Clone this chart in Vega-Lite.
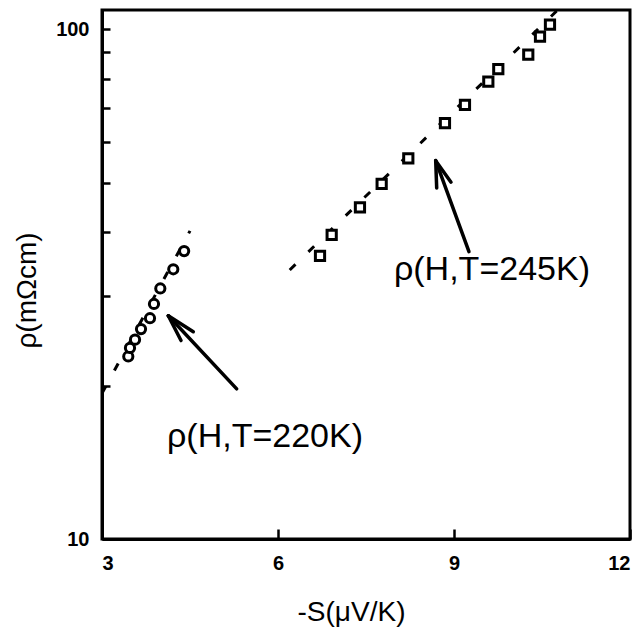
{
  "$schema": "https://vega.github.io/schema/vega-lite/v6.json",
  "width": 528,
  "height": 529,
  "autosize": {"type": "none"},
  "padding": {"left": 102, "top": 10, "right": 12, "bottom": 94},
  "background": "white",
  "config": {
    "view": {"stroke": "black", "strokeWidth": 3}
  },
  "datasets": {
    "pts": [
      {"series": "220K", "S": 3.448, "rho": 22.8},
      {"series": "220K", "S": 3.477, "rho": 23.7},
      {"series": "220K", "S": 3.563, "rho": 24.6},
      {"series": "220K", "S": 3.665, "rho": 25.8},
      {"series": "220K", "S": 3.818, "rho": 27.1},
      {"series": "220K", "S": 3.886, "rho": 28.9},
      {"series": "220K", "S": 3.994, "rho": 31.0},
      {"series": "220K", "S": 4.215, "rho": 33.8},
      {"series": "220K", "S": 4.40, "rho": 36.7},
      {"series": "245K", "S": 6.716, "rho": 35.9},
      {"series": "245K", "S": 6.915, "rho": 39.5},
      {"series": "245K", "S": 7.397, "rho": 44.7},
      {"series": "245K", "S": 7.767, "rho": 49.7},
      {"series": "245K", "S": 8.221, "rho": 55.8},
      {"series": "245K", "S": 8.846, "rho": 65.4},
      {"series": "245K", "S": 9.187, "rho": 71.0},
      {"series": "245K", "S": 9.585, "rho": 78.9},
      {"series": "245K", "S": 9.755, "rho": 83.5},
      {"series": "245K", "S": 10.266, "rho": 89.1},
      {"series": "245K", "S": 10.466, "rho": 96.7},
      {"series": "245K", "S": 10.636, "rho": 102.0}
    ],
    "fits": [
      {"series": "220K", "S": 3.0, "rho": 19.3},
      {"series": "220K", "S": 4.5, "rho": 40.2},
      {"series": "245K", "S": 6.2, "rho": 33.7},
      {"series": "245K", "S": 10.75, "rho": 108.5}
    ],
    "arrows": [
      {"S": 5.296, "rho": 19.7, "S2": 4.130, "rho2": 27.4},
      {"S": 4.347, "rho": 24.5, "S2": 4.130, "rho2": 27.4},
      {"S": 4.556, "rho": 25.5, "S2": 4.130, "rho2": 27.4},
      {"S": 9.255, "rho": 36.6, "S2": 8.688, "rho2": 55.2},
      {"S": 8.705, "rho": 48.8, "S2": 8.688, "rho2": 55.2},
      {"S": 8.949, "rho": 50.1, "S2": 8.688, "rho2": 55.2}
    ],
    "labels": [
      {"S": 5.778, "rho": 15.85, "text": "ρ(H,T=220K)"},
      {"S": 9.647, "rho": 33.7, "text": "ρ(H,T=245K)"}
    ]
  },
  "encoding": {
    "x": {
      "field": "S", "type": "quantitative",
      "scale": {"domain": [3, 12], "nice": false, "zero": false},
      "axis": {"values": [3, 6, 9, 12], "zindex": 1, "grid": false, "domainColor": "black", "domainWidth": 3, "tickColor": "black", "tickWidth": 2.5, "tickSize": -10, "labelPadding": 24, "labelFontSize": 20, "labelFontWeight": "bold", "labelFont": "Liberation Sans", "labelColor": "black", "title": "-S(μV/K)", "titleFont": "Liberation Sans", "titleFontWeight": "normal", "titleFontSize": 28, "titleColor": "black", "titleX": 249, "titleY": 73, "titleBaseline": "middle"}
    },
    "y": {
      "field": "rho", "type": "quantitative",
      "scale": {"type": "log", "domain": [10, 109], "nice": false},
      "axis": {"values": [10, 20, 30, 40, 50, 60, 70, 80, 90, 100], "zindex": 1, "grid": false, "domainColor": "black", "domainWidth": 3, "tickColor": "black", "tickWidth": 2.5, "tickSize": -8, "labelPadding": 21, "labelFontSize": 20, "labelFontWeight": "bold", "labelFont": "Liberation Sans", "labelColor": "black", "labelExpr": "datum.value == 10 || datum.value == 100 ? datum.value : ''", "title": "ρ(mΩcm)", "titleFont": "Liberation Sans", "titleFontWeight": "normal", "titleFontSize": 28, "titleColor": "black", "titleX": -75, "titleY": 280, "titleBaseline": "middle", "titleAlign": "center", "titleAngle": -90}
    }
  },
  "layer": [
    {
      "data": {"name": "fits"},
      "mark": {"type": "line", "color": "black", "strokeWidth": 3, "strokeDash": [8, 18], "clip": true},
      "encoding": {"detail": {"field": "series"}}
    },
    {
      "data": {"name": "pts"},
      "mark": {"type": "point", "filled": false, "fill": "white", "fillOpacity": 1, "stroke": "black", "strokeWidth": 3, "opacity": 1, "size": 85},
      "encoding": {
        "shape": {"field": "series", "type": "nominal", "scale": {"domain": ["220K", "245K"], "range": ["circle", "square"]}, "legend": null}
      }
    },
    {
      "data": {"name": "arrows"},
      "mark": {"type": "rule", "color": "black", "strokeWidth": 3.5, "strokeCap": "round"},
      "encoding": {
        "x2": {"field": "S2"},
        "y2": {"field": "rho2"}
      }
    },
    {
      "data": {"name": "labels"},
      "mark": {"type": "text", "font": "Liberation Sans", "fontSize": 34, "color": "black", "align": "center", "baseline": "middle"},
      "encoding": {
        "text": {"field": "text"}
      }
    }
  ]
}
